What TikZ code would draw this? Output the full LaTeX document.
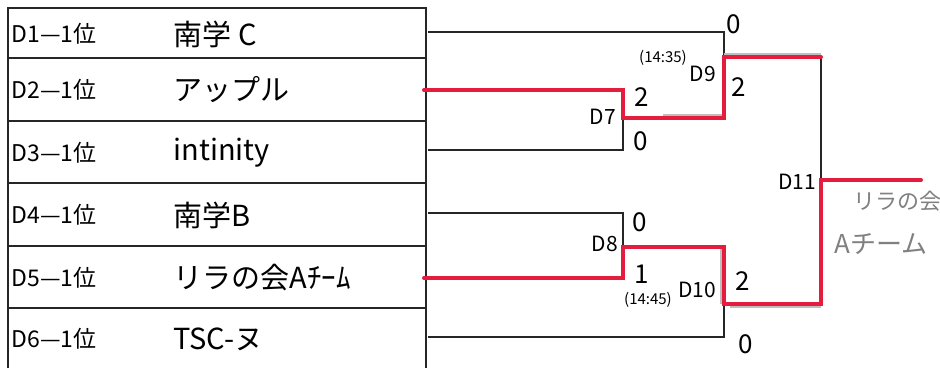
\documentclass[tikz,border=0pt]{standalone}
\usepackage{fontspec}
\setmainfont{Noto Sans CJK JP}
\definecolor{penred}{RGB}{228,28,62}
\definecolor{penshade}{RGB}{190,190,190}
\definecolor{wintext}{RGB}{128,128,128}
\begin{document}
\begin{tikzpicture}[x=1pt,y=-1pt,
    rule/.style={line width=1.3pt,black!85},
    win/.style={line width=4pt,penred,line cap=round},
    shade/.style={line width=2pt,penshade},
    seed/.style={anchor=west,font=\fontsize{23}{23}\selectfont},
    team/.style={anchor=west,font=\fontsize{29}{29}\selectfont},
    score/.style={font=\fontsize{26}{26}\selectfont},
    match/.style={font=\fontsize{21}{21}\selectfont},
    clock/.style={font=\fontsize{15}{15}\selectfont}]
  \useasboundingbox (0,0) rectangle (940,368);
  % entry table
  \draw[rule] (8,368) -- (8,8) -- (426,8) -- (426,368);
  \foreach \y in {58,121,183,246,308}
    \draw[rule] (8,\y) -- (426,\y);
  \foreach \i/\name/\y in {1/南学 C/34,2/アップル/90,3/intinity/153,4/南学B/215,5/リラの会Aﾁｰﾑ/278,6/TSC-ヌ/339} {
    \node[seed] (seed\i) at (8,\y) {D\i—1位};
    \node[team] (team\i) at (170,\y) {\name};
  }
  % bracket points
  \coordinate (in1) at (428,32);
  \coordinate (in2) at (424,90);
  \coordinate (in3) at (428,150);
  \coordinate (in4) at (428,213);
  \coordinate (in5) at (424,278);
  \coordinate (in6) at (428,337);
  \coordinate (j7) at (623,118);
  \coordinate (j8) at (623,247);
  \coordinate (j9) at (724,118);
  \coordinate (j10) at (724,304);
  \coordinate (j11a) at (821,57);
  \coordinate (j11) at (821,180);
  \coordinate (j11b) at (821,304);
  \coordinate (champ) at (921,180);
  % losers
  \draw[rule] (in1) -| (j9);
  \draw[rule] (in3) -| (j7);
  \draw[rule] (in4) -| (j8);
  \draw[rule] (in6) -| (j10);
  \draw[rule] (j11a) -- (j11);
  % pencil shade
  \draw[shade] ([shift={(40,-3)}]j7) -- ([shift={(0,-3)}]j9);
  \draw[shade] ([shift={(0,-3)}]j9 |- j11a) -- ([shift={(0,-3)}]j11a);
  \draw[shade] ([shift={(-3.5,0)}]j10 |- j8) -- ([shift={(-3.5,0)}]j10);
  \draw[shade] ([shift={(6,3)}]j10) -- ([shift={(0,3)}]j11b);
  % winners
  \draw[win] (in2) -| (j7) -- (j9) |- (j11a);
  \draw[win] (in5) -| (j8) -| (j10) -- (j11b) -- (j11) -- (champ);
  % scores and match names
  \node[score] (s9a) at (734,24) {0};
  \node[score] (s9b) at (739,87) {2};
  \node[score] (s7a) at (642,97) {2};
  \node[score] (s7b) at (641,141) {0};
  \node[score] (s8a) at (640,222) {0};
  \node[score] (s8b) at (642,274) {1};
  \node[score] (s10a) at (743,281) {2};
  \node[score] (s10b) at (746,344) {0};
  \node[match] (m7) at (603,117) {D7};
  \node[match] (m8) at (605,244) {D8};
  \node[match] (m9) at (703,74) {D9};
  \node[match] (m10) at (697,290) {D10};
  \node[match] (m11) at (797,182) {D11};
  \node[clock] (t9) at (663,58) {(14:35)};
  \node[clock] (t10) at (648,300) {(14:45)};
  \node[text=wintext,font=\fontsize{22}{22}\selectfont] (w1) at (897,201) {リラの会};
  \node[text=wintext,font=\fontsize{26}{26}\selectfont] (w2) at (881,244) {Aチーム};
\end{tikzpicture}
\end{document}
